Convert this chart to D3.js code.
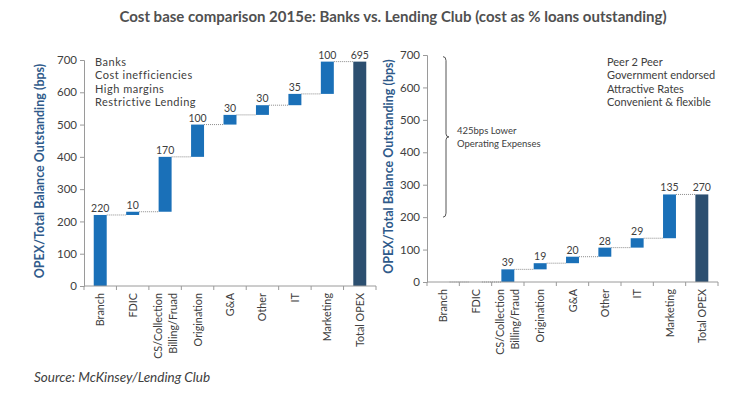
<!DOCTYPE html>
<html>
<head>
<meta charset="utf-8">
<script src="https://cdn.jsdelivr.net/npm/d3@7"></script>
<style>
  body { margin: 0; background: #fff; }
  svg { display: block; font-family: Lato, "Open Sans", sans-serif; }
</style>
</head>
<body>
<div id="chart"></div>
<script>
// ---- data ----
let bankCategories = ["Branch", "FDIC", "CS/Collection|Billing/Fruad", "Origination", "G&A", "Other", "IT", "Marketing", "Total OPEX"];
let p2pCategories = ["Branch", "FDIC", "CS/Collection|Billing/Fraud", "Origination", "G&A", "Other", "IT", "Marketing", "Total OPEX"];
let bankValues = [220, 10, 170, 100, 30, 30, 35, 100];
let bankTotal = 695;
let p2pValues = [0, 0, 39, 19, 20, 28, 29, 135];
let p2pTotal = 270;
let yTicks = [0, 100, 200, 300, 400, 500, 600, 700];
let bankNotes = ["Banks", "Cost inefficiencies", "High margins", "Restrictive Lending"];
let p2pNotes = ["Peer 2 Peer", "Government endorsed", "Attractive Rates", "Convenient & flexible"];
let gapNotes = ["425bps Lower", "Operating Expenses"];
let braceRange = [695, 200];

let width = 737, height = 398;
let textColor = "#404040";
let barColor = "#1a70b8";
let totalColor = "#2c4f70";
let labelColor = "#2f5a8a";

let svg = d3.select("#chart").append("svg")
    .attr("width", width)
    .attr("height", height);

svg.append("text")
    .attr("x", 393)
    .attr("y", 22)
    .attr("text-anchor", "middle")
    .style("font-size", "15px")
    .style("font-weight", "bold")
    .style("fill", "#505050")
    .text("Cost base comparison 2015e: Banks vs. Lending Club (cost as % loans outstanding)");

svg.append("text")
    .attr("x", 34)
    .attr("y", 382)
    .style("font-size", "13.5px")
    .style("font-style", "italic")
    .style("fill", textColor)
    .text("Source: McKinsey/Lending Club");

function drawPanel(opts) {
    let x = d3.scaleBand()
        .domain(opts.categories)
        .range([opts.x0, opts.x1])
        .paddingInner(0.6)
        .paddingOuter(0.3);

    let y = d3.scaleLinear()
        .domain([0, 700])
        .range([opts.yBottom, opts.yTop]);

    // build waterfall steps
    let steps = [];
    let run = 0;
    opts.values.forEach((v, i) => {
        steps.push({ cat: opts.categories[i], start: run, end: run + v, value: v, total: false });
        run += v;
    });
    steps.push({ cat: opts.categories[opts.categories.length - 1], start: 0, end: opts.total, value: opts.total, total: true });

    let g = svg.append("g");

    // connectors
    for (let i = 0; i < steps.length - 1; i++) {
        let level = steps[i].end;
        g.append("line")
            .attr("x1", x(steps[i].cat) + x.bandwidth())
            .attr("x2", x(steps[i + 1].cat))
            .attr("y1", y(level))
            .attr("y2", y(level))
            .style("stroke", "#8a8a8a")
            .style("stroke-width", 1)
            .style("stroke-dasharray", "1,1");
    }

    // bars
    g.selectAll(".bar")
        .data(steps)
        .enter()
        .append("rect")
        .attr("x", d => x(d.cat))
        .attr("y", d => y(d.end))
        .attr("width", x.bandwidth())
        .attr("height", d => y(d.start) - y(d.end))
        .style("fill", d => d.total ? totalColor : barColor);

    // value labels
    g.selectAll(".val")
        .data(steps.filter(d => d.value > 0))
        .enter()
        .append("text")
        .attr("x", d => x(d.cat) + x.bandwidth() / 2)
        .attr("y", d => y(d.end) - 3)
        .attr("text-anchor", "middle")
        .style("font-size", "10.5px")
        .style("fill", textColor)
        .text(d => d.value);

    // y axis
    let yAxis = g.append("g")
        .attr("transform", `translate(${opts.x0},0)`)
        .call(d3.axisLeft(y).tickValues(yTicks).tickSize(4).tickPadding(3));
    yAxis.selectAll("path, line").style("stroke", "#9a9a9a");
    yAxis.selectAll("text")
        .style("font-family", "Lato, sans-serif")
        .style("font-size", "11.5px")
        .style("fill", textColor);

    // x axis: ticks at band boundaries
    let xg = g.append("g");
    xg.append("line")
        .attr("x1", opts.x0).attr("x2", opts.x1)
        .attr("y1", opts.yBottom).attr("y2", opts.yBottom)
        .style("stroke", "#9a9a9a");
    let bounds = d3.range(opts.categories.length + 1).map(i => opts.x0 + (opts.x1 - opts.x0) * i / opts.categories.length);
    xg.selectAll(".xt")
        .data(bounds)
        .enter()
        .append("line")
        .attr("x1", d => d).attr("x2", d => d)
        .attr("y1", opts.yBottom).attr("y2", opts.yBottom + 4)
        .style("stroke", "#9a9a9a");

    opts.categories.forEach(c => {
        let lines = c.split("|");
        let cx = x(c) + x.bandwidth() / 2;
        lines.forEach((t, j) => {
            let lx = cx + (j - (lines.length - 1) / 2) * 15 + 4;
            xg.append("text")
                .attr("transform", `translate(${lx},${opts.yBottom + 7}) rotate(-90)`)
                .attr("text-anchor", "end")
                .style("font-size", "10.8px")
                .style("fill", textColor)
                .text(t);
        });
    });

    // axis title
    g.append("text")
        .attr("transform", `translate(${opts.labelX},${(opts.yTop + opts.yBottom) / 2 - 2}) rotate(-90)`)
        .attr("text-anchor", "middle")
        .style("font-size", "12.5px")
        .style("font-weight", "bold")
        .style("fill", labelColor)
        .text("OPEX/Total Balance Outstanding (bps)");

    // notes
    g.selectAll(".note")
        .data(opts.notes)
        .enter()
        .append("text")
        .attr("x", opts.noteX)
        .attr("y", (d, i) => opts.noteY + i * 13.3)
        .style("font-size", "11px")
        .style("letter-spacing", opts.noteSpacing)
        .style("fill", textColor)
        .text(d => d);

    return { x: x, y: y, g: g };
}

drawPanel({
    categories: bankCategories, values: bankValues, total: bankTotal,
    x0: 84, x1: 376, yTop: 60, yBottom: 286, labelX: 44,
    notes: bankNotes, noteX: 95, noteY: 66, noteSpacing: "0.5px"
});

let right = drawPanel({
    categories: p2pCategories, values: p2pValues, total: p2pTotal,
    x0: 427, x1: 718, yTop: 55, yBottom: 282, labelX: 393,
    notes: p2pNotes, noteX: 607, noteY: 66, noteSpacing: "0px"
});

// brace showing the gap between the two totals
let yTop = right.y(braceRange[0]), yBot = right.y(braceRange[1]);
let bx = 443, mid = (yTop + yBot) / 2;
right.g.append("path")
    .attr("d", `M${bx},${yTop} Q${bx + 3},${yTop} ${bx + 3},${yTop + 4} L${bx + 3},${mid - 3} Q${bx + 3},${mid} ${bx + 6},${mid} Q${bx + 3},${mid} ${bx + 3},${mid + 3} L${bx + 3},${yBot - 4} Q${bx + 3},${yBot} ${bx},${yBot}`)
    .style("fill", "none")
    .style("stroke", "#555")
    .style("stroke-width", 1);

right.g.selectAll(".gap")
    .data(gapNotes)
    .enter()
    .append("text")
    .attr("x", 457)
    .attr("y", (d, i) => mid - 3 + i * 13)
    .style("font-size", "9.5px")
    .style("fill", textColor)
    .text(d => d);
</script>
</body>
</html>
